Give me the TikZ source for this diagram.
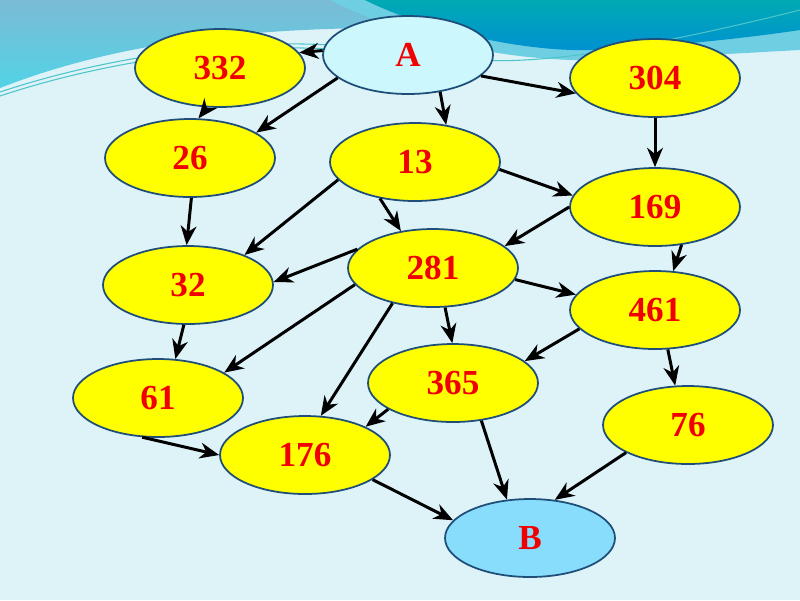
\documentclass[tikz,border=0pt]{standalone}
\usepackage{fontspec}
\setmainfont{Liberation Serif}
\usetikzlibrary{arrows.meta,shapes.geometric}

\definecolor{bgcyan}{HTML}{DDF3F8}
\definecolor{waveblue}{HTML}{7BBBD5}
\definecolor{wavecyan}{HTML}{52D3E6}
\definecolor{tealtop}{HTML}{00AAB3}
\definecolor{tealdeep}{HTML}{0090D2}
\definecolor{bandcyan}{HTML}{6ECFE2}
\definecolor{edgeblue}{HTML}{1F4E79}
\definecolor{nodeyellow}{HTML}{FFFF00}
\definecolor{startcyan}{HTML}{CCF7FC}
\definecolor{endblue}{HTML}{88DDFC}
\definecolor{numred}{HTML}{F00000}

\begin{document}
\begin{tikzpicture}[x=0.02cm,y=-0.02cm,
  every node/.style={ellipse, draw=edgeblue, line width=1pt, fill=nodeyellow,
    minimum width=3.4cm, minimum height=1.56cm, text=numred,
    font=\fontsize{20}{22}\selectfont\bfseries},
  link/.style={-{Stealth[length=11pt,width=9pt,inset=3.5pt]}, line width=1.7pt, black}]

% background and top waves
\useasboundingbox (0,0) rectangle (800,600);
\fill[bgcyan] (0,0) rectangle (800,600);
\shade[top color=waveblue, bottom color=wavecyan]
  (0,0) -- (0,88) .. controls (110,45) and (240,26) .. (420,28) -- (360,0) -- cycle;
\fill[bandcyan] (330,0) .. controls (420,45) and (520,62) .. (600,60)
  .. controls (700,56) and (760,52) .. (800,50) -- (800,0) -- cycle;
\shade[top color=tealtop, bottom color=tealdeep]
  (365,0) .. controls (420,28) and (520,52) .. (590,50)
  .. controls (680,46) and (760,36) .. (800,30) -- (800,0) -- cycle;
\draw[tealtop!70, line width=0.6pt] (0,92) .. controls (120,52) and (250,40) .. (330,45);
\draw[tealtop!70, line width=0.6pt] (0,96) .. controls (120,56) and (250,44) .. (330,49);
\draw[tealtop!70, line width=0.6pt] (480,60) .. controls (540,64) and (640,50) .. (800,10);

% nodes
\node[fill=startcyan] (vA) at (408,55) {A};
\node (v332) at (220,68) {332};
\node (v304) at (655,78) {304};
\node (v26) at (190,158) {26};
\node (v13) at (415,162) {13};
\node (v169) at (655,207) {169};
\node (v32) at (188,285) {32};
\node (v281) at (433,268) {281};
\node (v461) at (655,310) {461};
\node (v61) at (158,398) {61};
\node (v365) at (453,383) {365};
\node (v76) at (688,425) {76};
\node (v176) at (305,455) {176};
\node[fill=endblue] (vB) at (530,538) {B};

% arrows
\draw[link] (vA.177) -- (v332.11);
\draw[link] (vA.198) -- (v26.21);
\draw[link] (vA.-49) -- (v13.50);
\draw[link] (vA.-16) -- (v304.191);
\draw[link] (v332.252) -- (v26.78);
\draw[link] (v304.270) -- (v169.90);
\draw[link] (v13.193) -- (v32.28);
\draw[link] (v13.226) -- (v281.131);
\draw[link] (v13.-5) -- (v169.172);
\draw[link] (v169.180) -- (v281.17);
\draw[link] (v26.272) -- (v32.92);
\draw[link] (v169.305) -- (v461.65);
\draw[link] (v281.166) -- (v32.2);
\draw[link] (v281.-8) -- (v461.169);
\draw[link] (v32.264) -- (v61.66);
\draw[link] (v281.192) -- (v61.21);
\draw[link] (v281.221) -- (v176.68);
\draw[link] (v281.287) -- (v365.91);
\draw[link] (v461.194) -- (v365.17);
\draw[link] (v461.288) -- (v76.108);
\draw[link] (v365.202) -- (v176.25);
\draw[link] (v365.307) -- (vB.121);
\draw[link] (v76.204) -- (vB.57);
\draw[link] (v61.248) -- (v176.180);
\draw[link] (v176.340) -- (vB.167);
\end{tikzpicture}
\end{document}
